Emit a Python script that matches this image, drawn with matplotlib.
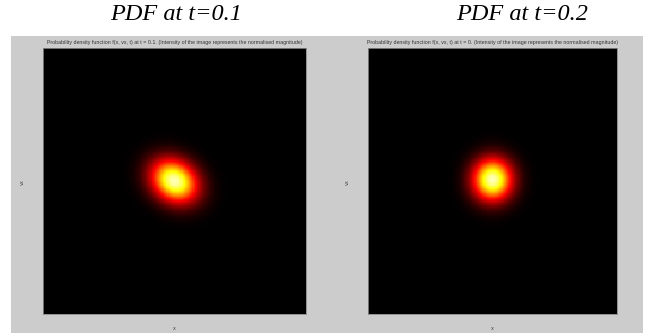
import numpy as np
import matplotlib
matplotlib.use('Agg')
from matplotlib import pyplot as plt
from matplotlib.patches import Rectangle
from matplotlib.colors import LinearSegmentedColormap

# 图上读出的参数
panel_titles = ['PDF at t=0.1', 'PDF at t=0.2']
axes_titles = [
    'Probability density function f(x, vx, t) at t = 0.1. (Intensity of the image represents the normalised magnitude)',
    'Probability density function f(x, vx, t) at t = 0. (Intensity of the image represents the normalised magnitude)',
]
# 高斯峰: 中心x, 中心v, sigma_x, sigma_v, 相关系数
blob_centers_x = [0.0, 0.0]
blob_centers_v = [0.0, 0.01]
blob_sigma_x = [0.122, 0.11]
blob_sigma_v = [0.112, 0.11]
blob_rho = [-0.2, 0.0]
grid_n = 220

# 黑-红-黄-白 色图 (类似 hot, 但底色纯黑)
k_hot = LinearSegmentedColormap.from_list(
    'k_hot', [(0, 'black'), (0.37, 'red'), (0.75, 'yellow'), (1, 'white')])

fig = plt.figure(figsize=(6.46, 3.33), dpi=100)
fig.patch.set_facecolor('white')

# 灰色底板
fig.patches.append(Rectangle((11 / 646, 0), (643 - 11) / 646, (333 - 36) / 333,
                             transform=fig.transFigure, facecolor='#cccccc',
                             edgecolor='none', zorder=-5))

positions = [
    [43 / 646, 19 / 333, 263 / 646, 266 / 333],
    [368 / 646, 19 / 333, 249 / 646, 266 / 333],
]
title_x = [176 / 646, 522 / 646]
ylabel_x = [22 / 646, 347 / 646]

g = np.linspace(-1, 1, grid_n)
X, V = np.meshgrid(g, g)

for i in range(2):
    ax = fig.add_axes(positions[i])
    dx = (X - blob_centers_x[i]) / blob_sigma_x[i]
    dv = (V - blob_centers_v[i]) / blob_sigma_v[i]
    r = blob_rho[i]
    f = np.exp(-(dx**2 - 2 * r * dx * dv + dv**2) / (2 * (1 - r**2)))
    f = f / f.max()
    ax.imshow(f, cmap=k_hot, vmin=0, vmax=1.08, aspect='auto',
              interpolation='nearest', origin='lower')
    ax.set_xticks([])
    ax.set_yticks([])
    for s in ax.spines.values():
        s.set_color('#888888')
        s.set_linewidth(0.6)
    ax.set_title(axes_titles[i], fontsize=3.8, family='Liberation Sans',
                 color='#333333', pad=3)
    fig.text(positions[i][0] + positions[i][2] / 2, 5 / 333, 'x',
             fontsize=3.5, color='#444444', ha='center', va='center')
    fig.text(ylabel_x[i], 1 - 182 / 333, 'vx',
             fontsize=3.5, color='#444444', ha='center', va='center', rotation=90)
    fig.text(title_x[i], 1 - 15 / 333, panel_titles[i], fontsize=17.5,
             family='Liberation Serif', style='italic', ha='center', va='center')

plt.savefig('out.png', dpi=100, facecolor='white')
